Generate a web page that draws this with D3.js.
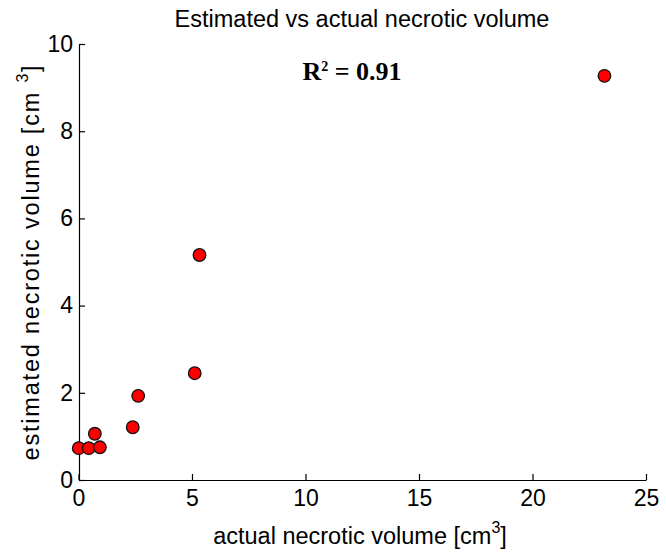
<!DOCTYPE html>
<html><head><meta charset="utf-8">
<script src="https://cdn.jsdelivr.net/npm/d3@7"></script>
<style>body{margin:0;background:#fff}svg{display:block}</style>
</head><body>
<svg id="c" width="666" height="555"></svg>
<script>
const actualVolume = [0.01, 0.45, 0.94, 0.72, 2.39, 2.63, 5.12, 5.33, 23.17];
const estimatedVolume = [0.73, 0.73, 0.75, 1.06, 1.21, 1.93, 2.45, 5.16, 9.27];
const xTicks = [0, 5, 10, 15, 20, 25];
const yTicks = [0, 2, 4, 6, 8, 10];
const titleText = "Estimated vs actual necrotic volume";
const xLabelText = "actual necrotic volume [cm";
const yLabelText = "estimated necrotic volume [cm ";
const r2Text = "0.91";

const svg = d3.select("#c");
const x = d3.scaleLinear().domain([0, 25]).range([78.5, 646]);
const y = d3.scaleLinear().domain([0, 10]).range([480, 44]);
const font = "'Liberation Sans', Arial, sans-serif";

const xAxis = svg.append("g").attr("transform", "translate(0,480)")
  .call(d3.axisBottom(x).tickValues(xTicks).tickSizeInner(-6).tickSizeOuter(0).tickPadding(10));
const yAxis = svg.append("g").attr("transform", "translate(79,0)")
  .call(d3.axisLeft(y).tickValues(yTicks).tickSizeInner(-6).tickSizeOuter(0).tickPadding(6));
[xAxis, yAxis].forEach(g => {
  g.select(".domain").attr("stroke", "#000").attr("stroke-width", 1.2);
  g.selectAll(".tick line").attr("stroke", "#000").attr("stroke-width", 1.2);
  g.selectAll(".tick text").attr("fill", "#000").style("font-family", font).style("font-size", "23px");
});

svg.append("g").selectAll("circle").data(actualVolume).join("circle")
  .attr("cx", (d) => x(d)).attr("cy", (d, i) => y(estimatedVolume[i]))
  .attr("r", 6.3).attr("fill", "#f00").attr("stroke", "#111").attr("stroke-width", 1.3);

svg.append("text").attr("x", 362).attr("y", 27).attr("text-anchor", "middle")
  .style("font-family", font).style("font-size", "23.5px").text(titleText);

const xl = svg.append("text").attr("x", 360).attr("y", 544).attr("text-anchor", "middle")
  .style("font-family", font).style("font-size", "23.5px");
xl.append("tspan").text(xLabelText);
xl.append("tspan").attr("dy", -11).style("font-size", "16px").text("3");
xl.append("tspan").attr("dy", 11).text("]");

const yl = svg.append("text").attr("transform", "translate(39,262) rotate(-90)").attr("text-anchor", "middle")
  .style("font-family", font).style("font-size", "23.5px").style("letter-spacing", "1.8px");
yl.append("tspan").text(yLabelText);
yl.append("tspan").attr("dy", -11).style("font-size", "16px").text("3");
yl.append("tspan").attr("dy", 11).text("]");

const r2 = svg.append("text").attr("x", 352).attr("y", 80).attr("text-anchor", "middle")
  .style("font-family", "'Liberation Serif', 'Times New Roman', serif").style("font-size", "26px").style("font-weight", "bold");
r2.append("tspan").text("R");
r2.append("tspan").attr("dy", -9).style("font-size", "14px").text("2");
r2.append("tspan").attr("dy", 9).text(" = " + r2Text);
</script>
</body></html>
